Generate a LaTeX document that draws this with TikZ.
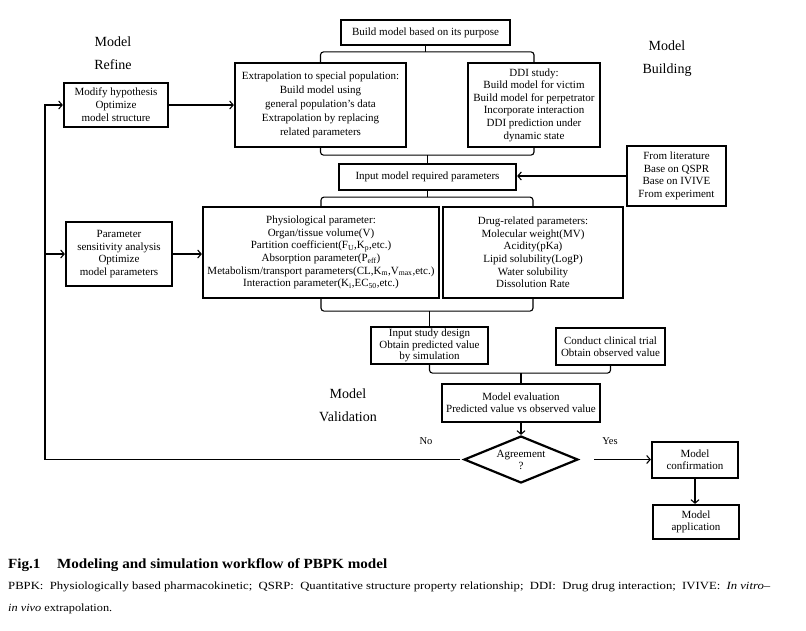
\documentclass[tikz,border=0pt]{standalone}
\usepackage{fontspec}
\usepackage{graphicx}
\setmainfont{Liberation Serif}
\usetikzlibrary{arrows.meta,shapes.geometric}
\begin{document}
\begin{tikzpicture}[x=1pt,y=-1pt,
  box/.style={draw,line width=2.2pt,inner sep=0pt,align=center,
    font=\fontsize{11}{12.6}\selectfont},
  conn/.style={line width=1.1pt},
  brace/.style={line width=1.1pt,rounded corners=3pt},
  arr/.style={line width=1.1pt,-{Straight Barb[length=3.5pt,width=8pt,line width=1.1pt]}},
  stage/.style={font=\fontsize{14}{23}\selectfont,align=center},
  lbl/.style={font=\fontsize{10.5}{12}\selectfont}]
\useasboundingbox (0,0) rectangle (806,630);

% stage labels
\node[stage] (refine) at (113,53.5) {Model\\Refine};
\node[stage] (building) at (667,58.5) {Model\\Building};
\node[stage] (validation) at (348,405) {Model\\Validation};

% boxes
\node[box,minimum width=169pt,minimum height=25pt] (build) at (425.5,32.5) {Build model based on its purpose};
\node[box,minimum width=171pt,minimum height=84pt,font=\fontsize{11}{14}\selectfont] (ext) at (320.5,105)
  {Extrapolation to special population:\\Build model using\\general population's data\\Extrapolation by replacing\\related parameters};
\node[box,minimum width=132pt,minimum height=84pt] (ddi) at (534,105)
  {DDI study:\\Build model for victim\\Build model for perpetrator\\Incorporate interaction\\DDI prediction under\\dynamic state};
\node[box,minimum width=177pt,minimum height=26pt] (input) at (427.5,177) {Input model required parameters};
\node[box,minimum width=99pt,minimum height=60pt] (lit) at (676.5,176)
  {From literature\\Base on QSPR\\Base on IVIVE\\From experiment};
\node[box,minimum width=104pt,minimum height=44pt,font=\fontsize{11}{13}\selectfont] (modify) at (116,105)
  {Modify hypothesis\\Optimize\\model structure};
\node[box,minimum width=106pt,minimum height=64pt] (param) at (119,254)
  {Parameter\\sensitivity analysis\\Optimize\\model parameters};
\node[box,minimum width=236pt,minimum height=91pt] (physio) at (321,252.5)
  {Physiological parameter:\\Organ/tissue volume(V)\\Partition coefficient(F\textsubscript{U},K\textsubscript{p},etc.)\\Absorption parameter(P\textsubscript{eff})\\Metabolism/transport parameters(CL,K\textsubscript{m},V\textsubscript{max},etc.)\\Interaction parameter(K\textsubscript{i},EC\textsubscript{50},etc.)};
\node[box,minimum width=180pt,minimum height=91pt] (drug) at (533,252.5)
  {Drug-related parameters:\\Molecular weight(MV)\\Acidity(pKa)\\Lipid solubility(LogP)\\Water solubility\\Dissolution Rate};
\node[box,minimum width=117pt,minimum height=37pt,font=\fontsize{11}{11.6}\selectfont] (isd) at (429.5,345.5)
  {Input study design\\Obtain predicted value\\by simulation};
\node[box,minimum width=109pt,minimum height=37pt,font=\fontsize{11}{12}\selectfont] (conduct) at (610.5,346.5)
  {Conduct clinical trial\\Obtain observed value};
\node[box,minimum width=158pt,minimum height=38pt,font=\fontsize{11}{12}\selectfont] (eval) at (521,403)
  {Model evaluation\\Predicted value vs observed value};
\node[diamond,draw,line width=2.2pt,inner sep=0pt,aspect=2.4,minimum width=114pt,minimum height=47pt,
  align=center,font=\fontsize{11}{12}\selectfont] (dia) at (521,459.5) {Agreement\\?};
\node[box,minimum width=86pt,minimum height=36pt,font=\fontsize{11}{12}\selectfont] (confirm) at (695,460)
  {Model\\confirmation};
\node[box,minimum width=86pt,minimum height=34pt,font=\fontsize{11}{12}\selectfont] (app) at (696,522)
  {Model\\application};

% braces
\draw[brace] (ext.north) -- ++(0,-10) coordinate (b1) -| (ddi.north);
\draw[conn] (build.south) -- (build.south |- b1);
\draw[brace] (ext.south) -- ++(0,7) coordinate (b2) -| (ddi.south);
\draw[conn] (input.north |- b2) -- (input.north);
\draw[conn] (input.south) -- ++(0,6) coordinate (b3);
\draw[brace] (physio.north) -- (physio.north |- b3) -| (drug.north);
\draw[brace] (physio.south) -- ++(0,12) coordinate (b4) -| (drug.south);
\draw[conn] (isd.north |- b4) -- (isd.north);
\draw[brace] (isd.south) -- ++(0,8) coordinate (b5) -| (conduct.south);
\draw[conn] (eval.north |- b5) -- (eval.north);

% arrows
\draw[arr] (lit.west) -- (lit.west -| input.east);
\draw[arr] (modify.east) -- (modify.east -| ext.west);
\draw[arr] (param.east) -- (param.east -| physio.west);
\draw[arr] (eval.south) -- (dia.north);
\draw[arr,shorten <=15pt] (dia.east) -- (confirm.west |- dia.east);
\draw[arr] (confirm.south) -- (confirm.south |- app.north);
\coordinate (lx) at (45,459.5);
\draw[conn,shorten <=3pt] (dia.west) -- (lx);
\draw[arr] (lx) |- (modify.west);
\draw[arr] (lx |- param.west) -- (param.west);
\node[lbl] (no) at (426,441) {No};
\node[lbl] (yes) at (610,441) {Yes};

% caption
\node[anchor=west,inner sep=0pt,font=\bfseries\fontsize{14}{16}\selectfont] (cap1) at (8,565)
  {\resizebox{379pt}{\height}{Fig.1\hspace{1.1em}Modeling and simulation workflow of PBPK model}};
\node[anchor=west,inner sep=0pt,font=\fontsize{11}{13}\selectfont] (cap2) at (8,587)
  {\resizebox{762pt}{\height}{PBPK:\ \ Physiologically based pharmacokinetic;\ \ QSRP:\ \ Quantitative structure property relationship;\ \ DDI:\ \ Drug drug interaction;\ \ IVIVE:\ \ \textit{In vitro}–}};
\node[anchor=west,inner sep=0pt,font=\fontsize{11}{13}\selectfont] (cap3) at (8,609)
  {\resizebox{104pt}{\height}{\textit{in vivo} extrapolation.}};
\end{tikzpicture}
\end{document}
